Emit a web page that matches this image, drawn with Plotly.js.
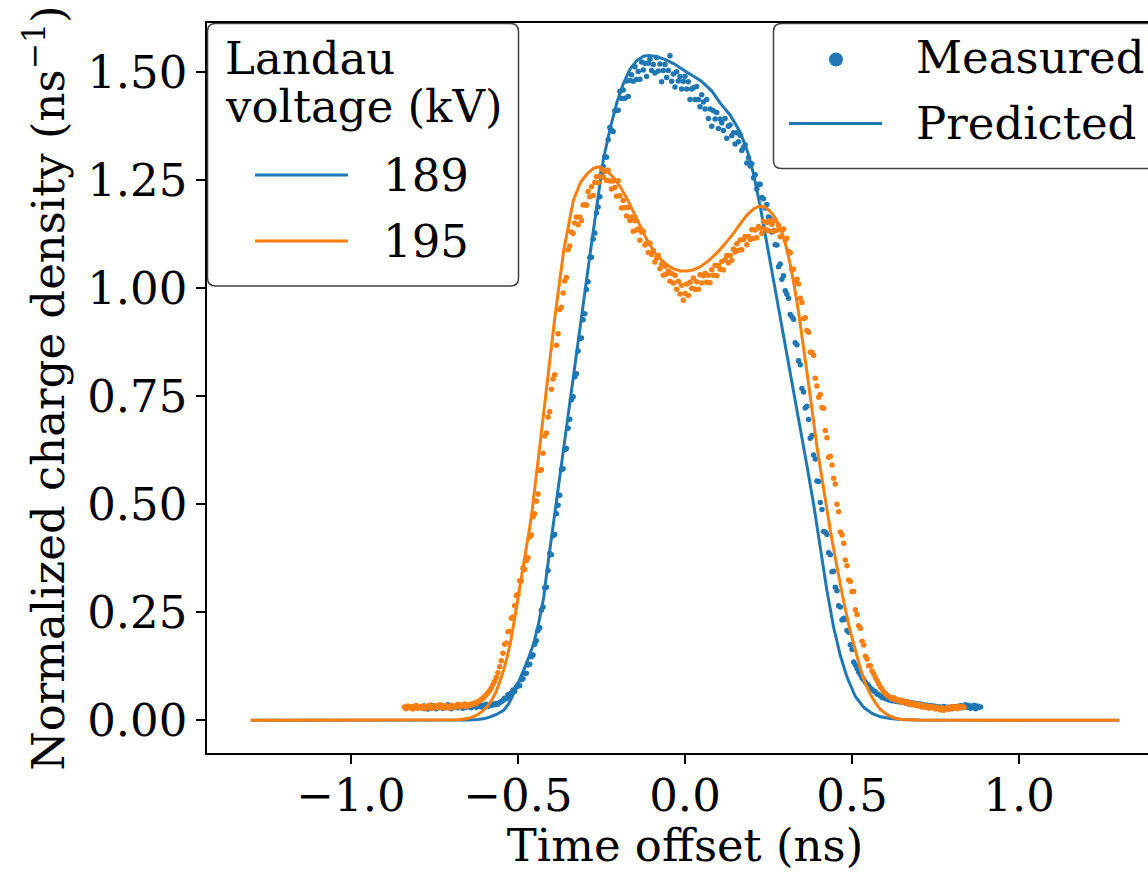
<!DOCTYPE html>
<html><head><meta charset="utf-8">
<script src="https://cdn.plot.ly/plotly-3.0.1.min.js"></script>
<style>html,body{margin:0;padding:0;overflow:hidden;background:#fff}</style>
</head><body><div id="chart" style="width:1170px;height:872px"></div>
<script>
// ---- data ----
const voltages = ['189', '195'];
const seriesColors = ['#1f77b4', '#ff7f0e'];
const measuredDx = 0.005;
const measured189X0 = -0.79;
const measured189 = [
0.031,0.028,0.033,0.030,0.026,0.032,0.035,0.029,0.031,0.027,
0.033,0.030,0.034,0.028,0.031,0.029,0.036,0.030,0.027,0.032,
0.030,0.034,0.029,0.031,0.033,0.028,0.032,0.030,0.035,0.031,
0.029,0.033,0.036,0.030,0.032,0.034,0.031,0.035,0.033,0.037,
0.032,0.036,0.034,0.038,0.036,0.039,0.037,0.041,0.043,0.046,
0.051,0.050,0.059,0.055,0.063,0.070,0.067,0.077,0.083,0.080,
0.094,0.096,0.109,0.109,0.128,0.130,0.147,0.151,0.176,0.184,
0.208,0.214,0.255,0.262,0.307,0.308,0.347,0.386,0.383,0.427,
0.430,0.478,0.498,0.521,0.580,0.582,0.626,0.629,0.676,0.697,
0.742,0.749,0.795,0.802,0.855,0.884,0.885,0.927,0.941,0.997,
1.015,1.071,1.072,1.114,1.128,1.175,1.188,1.212,1.265,1.282,
1.305,1.303,1.344,1.372,1.366,1.363,1.411,1.412,1.412,1.456,
1.439,1.459,1.440,1.480,1.444,1.481,1.494,1.479,1.513,1.483,
1.502,1.484,1.524,1.505,1.521,1.490,1.521,1.530,1.504,1.518,
1.498,1.534,1.503,1.519,1.478,1.504,1.518,1.488,1.504,1.538,
1.479,1.496,1.466,1.501,1.480,1.490,1.461,1.479,1.491,1.461,
1.478,1.437,1.461,1.464,1.437,1.467,1.437,1.420,1.448,1.431,
1.415,1.437,1.393,1.415,1.375,1.411,1.392,1.407,1.370,1.392,
1.383,1.365,1.393,1.347,1.375,1.378,1.353,1.360,1.334,1.360,
1.339,1.354,1.319,1.326,1.332,1.290,1.302,1.283,1.288,1.256,
1.263,1.230,1.241,1.241,1.210,1.207,1.186,1.194,1.165,1.161,
1.130,1.133,1.101,1.100,1.050,1.056,1.021,1.029,0.994,0.986,
0.977,0.939,0.934,0.928,0.874,0.869,0.832,0.823,0.768,0.760,
0.723,0.727,0.696,0.653,0.659,0.614,0.605,0.554,0.553,0.504,
0.488,0.437,0.435,0.430,0.388,0.383,0.344,0.345,0.308,0.300,
0.265,0.262,0.232,0.236,0.234,0.208,0.204,0.175,0.164,0.135,
0.128,0.120,0.112,0.106,0.098,0.094,0.088,0.084,0.080,0.074,
0.071,0.068,0.066,0.061,0.059,0.057,0.053,0.055,0.050,0.052,
0.047,0.050,0.045,0.048,0.044,0.047,0.043,0.046,0.041,0.044,
0.040,0.043,0.038,0.041,0.037,0.040,0.036,0.039,0.034,0.038,
0.033,0.036,0.032,0.035,0.031,0.034,0.030,0.033,0.029,0.032,
0.027,0.031,0.028,0.032,0.026,0.030,0.028,0.031,0.027,0.030,
0.032,0.028,0.031,0.034,0.029,0.033,0.036,0.030,0.034,0.028,
0.032,0.035,0.027,0.033,0.030,0.031
];
const measured195X0 = -0.84;
const measured195 = [
0.031,0.027,0.033,0.029,0.032,0.026,0.030,0.034,0.028,0.031,
0.029,0.033,0.027,0.032,0.030,0.035,0.028,0.031,0.034,0.029,
0.032,0.036,0.030,0.033,0.029,0.034,0.031,0.028,0.035,0.032,
0.030,0.034,0.037,0.031,0.035,0.033,0.038,0.032,0.036,0.034,
0.038,0.036,0.040,0.039,0.043,0.045,0.048,0.051,0.055,0.059,
0.064,0.069,0.075,0.082,0.090,0.099,0.110,0.124,0.138,0.155,
0.176,0.179,0.205,0.206,0.236,0.239,0.265,0.289,0.292,0.323,
0.322,0.352,0.349,0.370,0.376,0.424,0.429,0.471,0.478,0.507,
0.524,0.578,0.580,0.618,0.658,0.665,0.702,0.714,0.766,0.790,
0.800,0.868,0.895,0.951,0.956,0.989,1.017,1.025,1.089,1.098,
1.130,1.127,1.151,1.165,1.147,1.165,1.156,1.193,1.194,1.192,
1.224,1.212,1.235,1.215,1.245,1.258,1.244,1.259,1.276,1.257,
1.270,1.250,1.273,1.248,1.230,1.248,1.233,1.213,1.249,1.214,
1.186,1.203,1.187,1.167,1.187,1.157,1.165,1.132,1.156,1.135,
1.137,1.111,1.130,1.132,1.100,1.104,1.083,1.104,1.078,1.087,
1.061,1.070,1.076,1.045,1.056,1.030,1.051,1.033,1.040,1.016,
1.034,1.012,1.030,0.998,1.016,0.987,1.007,0.972,0.988,1.010,
0.983,1.014,1.000,1.024,0.998,1.015,0.998,1.031,1.012,1.029,
1.035,1.014,1.030,1.013,1.043,1.030,1.053,1.029,1.052,1.044,
1.062,1.042,1.066,1.076,1.059,1.076,1.065,1.091,1.084,1.103,
1.088,1.112,1.089,1.113,1.120,1.101,1.120,1.113,1.136,1.115,
1.135,1.117,1.143,1.139,1.127,1.155,1.137,1.152,1.133,1.157,
1.148,1.132,1.156,1.134,1.146,1.119,1.135,1.137,1.112,1.116,
1.085,1.082,1.044,1.044,1.013,1.021,1.010,0.977,0.967,0.930,
0.932,0.902,0.898,0.852,0.852,0.845,0.792,0.774,0.748,0.754,
0.724,0.722,0.671,0.654,0.609,0.611,0.591,0.560,0.547,0.500,
0.483,0.436,0.429,0.410,0.371,0.358,0.325,0.321,0.298,0.298,
0.256,0.245,0.219,0.213,0.183,0.174,0.148,0.142,0.126,0.126,
0.114,0.107,0.099,0.092,0.084,0.077,0.072,0.066,0.062,0.058,
0.055,0.053,0.050,0.052,0.047,0.049,0.045,0.047,0.042,0.044,
0.040,0.043,0.038,0.041,0.036,0.039,0.034,0.037,0.033,0.036,
0.031,0.034,0.030,0.033,0.028,0.032,0.029,0.031,0.026,0.030,
0.027,0.024,0.029,0.023,0.027,0.030,0.025,0.029,0.032,0.028,
0.031,0.027,0.033,0.029,0.032,0.030
];
const predicted189X = [-1.3,-0.7,-0.65,-0.62,-0.6,-0.583,-0.563,-0.543,-0.528,-0.513,-0.498,-0.483,-0.468,-0.453,-0.438,-0.423,-0.413,-0.39,-0.36,-0.334,-0.31,-0.284,-0.264,-0.244,-0.224,-0.204,-0.184,-0.164,-0.144,-0.124,-0.109,-0.09,-0.06,-0.034,0,0.046,0.08,0.106,0.136,0.166,0.19,0.205,0.225,0.245,0.265,0.285,0.305,0.325,0.345,0.365,0.385,0.405,0.425,0.445,0.465,0.485,0.51,0.535,0.56,0.585,0.615,0.645,0.7,1.3];
const predicted189Y = [0,0,0.0005,0.002,0.004,0.008,0.014,0.023,0.038,0.062,0.088,0.116,0.145,0.178,0.225,0.285,0.347,0.48,0.65,0.80,0.94,1.08,1.19,1.30,1.37,1.43,1.475,1.508,1.527,1.537,1.539,1.537,1.53,1.52,1.503,1.481,1.457,1.428,1.40,1.36,1.31,1.265,1.19,1.105,1.02,0.935,0.85,0.76,0.675,0.59,0.50,0.40,0.30,0.215,0.15,0.10,0.055,0.030,0.016,0.008,0.004,0.002,0.0005,0];
const predicted195X = [-1.3,-0.72,-0.68,-0.65,-0.623,-0.608,-0.593,-0.58,-0.568,-0.555,-0.543,-0.533,-0.523,-0.513,-0.503,-0.493,-0.483,-0.46,-0.44,-0.413,-0.39,-0.363,-0.345,-0.334,-0.313,-0.293,-0.273,-0.259,-0.244,-0.229,-0.214,-0.194,-0.174,-0.154,-0.134,-0.114,-0.094,-0.074,-0.054,-0.034,-0.014,0.006,0.026,0.046,0.071,0.096,0.121,0.146,0.166,0.186,0.206,0.222,0.24,0.255,0.27,0.285,0.295,0.305,0.315,0.325,0.34,0.355,0.375,0.395,0.415,0.435,0.455,0.475,0.495,0.51,0.525,0.54,0.555,0.57,0.585,0.605,0.625,0.65,0.7,1.3];
const predicted195Y = [0,0,0.001,0.004,0.012,0.020,0.031,0.045,0.062,0.088,0.116,0.145,0.178,0.222,0.27,0.32,0.37,0.47,0.60,0.779,0.93,1.088,1.165,1.204,1.245,1.265,1.278,1.281,1.276,1.268,1.256,1.235,1.208,1.175,1.142,1.112,1.086,1.068,1.054,1.045,1.040,1.040,1.043,1.050,1.064,1.082,1.104,1.128,1.150,1.170,1.184,1.190,1.188,1.178,1.163,1.140,1.118,1.090,1.055,1.015,0.945,0.864,0.75,0.633,0.535,0.44,0.355,0.275,0.205,0.16,0.12,0.085,0.060,0.040,0.025,0.013,0.006,0.002,0.0005,0];
const xTickVals = [-1.0, -0.5, 0.0, 0.5, 1.0];
const yTickVals = [0, 0.25, 0.5, 0.75, 1.0, 1.25, 1.5];
const styleLabels = ['Measured', 'Predicted'];

// ---- drawing ----
const FONT = 'DejaVu Serif, serif';
const FS = 45;
const FIG_W = 1170, FIG_H = 872;
const PL = 207, PT = 23, PW = 956, PH = 730;
const fx = p => (p - PL) / PW;
const fy = p => (PT + PH - p) / PH;

const traces = [
  {type:'scatter', mode:'markers', name:'Measured '+voltages[0], x0:measured189X0, dx:measuredDx, y:measured189,
   marker:{size:5.5, color:seriesColors[0]}, showlegend:false, hoverinfo:'skip'},
  {type:'scatter', mode:'lines', name:voltages[0], x:predicted189X, y:predicted189Y,
   line:{color:seriesColors[0], width:3}, showlegend:false},
  {type:'scatter', mode:'markers', name:'Measured '+voltages[1], x0:measured195X0, dx:measuredDx, y:measured195,
   marker:{size:5.5, color:seriesColors[1]}, showlegend:false, hoverinfo:'skip'},
  {type:'scatter', mode:'lines', name:voltages[1], x:predicted195X, y:predicted195Y,
   line:{color:seriesColors[1], width:3}, showlegend:false}
];

function roundRect(x0, y0, x1, y1, r) {
  const a = fx(x0), b = fx(x1), c = fy(y0), d = fy(y1);
  const rx = r / PW, ry = r / PH;
  return `M${a+rx},${c} L${b-rx},${c} Q${b},${c} ${b},${c-ry} L${b},${d+ry} Q${b},${d} ${b-rx},${d} L${a+rx},${d} Q${a},${d} ${a},${d+ry} L${a},${c-ry} Q${a},${c} ${a+rx},${c} Z`;
}
const frame = {color:'rgba(0,0,0,0.75)', width:1.5};
const shapes = [
  {type:'path', xref:'paper', yref:'paper', layer:'above', path:roundRect(207.5, 23.5, 518.5, 286, 8),
   fillcolor:'rgba(255,255,255,0.85)', line:frame},
  {type:'line', xref:'paper', yref:'paper', layer:'above', x0:fx(255), x1:fx(348), y0:fy(175), y1:fy(175),
   line:{color:seriesColors[0], width:3}},
  {type:'line', xref:'paper', yref:'paper', layer:'above', x0:fx(255), x1:fx(348), y0:fy(241), y1:fy(241),
   line:{color:seriesColors[1], width:3}},
  {type:'path', xref:'paper', yref:'paper', layer:'above', path:roundRect(773.5, 23.5, 1160, 168.5, 8),
   fillcolor:'rgba(255,255,255,0.85)', line:frame},
  {type:'circle', xref:'paper', yref:'paper', layer:'above', x0:fx(829), x1:fx(843), y0:fy(52.5), y1:fy(66.5),
   fillcolor:seriesColors[0], line:{width:0}},
  {type:'line', xref:'paper', yref:'paper', layer:'above', x0:fx(789), x1:fx(882), y0:fy(123.5), y1:fy(123.5),
   line:{color:seriesColors[0], width:3}}
];
function label(text, x, yc) {
  return {text:text, xref:'paper', yref:'paper', x:fx(x), y:fy(yc), xanchor:'left', yanchor:'middle',
          showarrow:false, borderpad:0, font:{family:FONT, size:FS, color:'#000'}};
}
const annotations = [
  label('Landau', 224, 58.5),
  label('voltage (kV)', 224, 107),
  label(voltages[0], 382, 176),
  label(voltages[1], 382, 241),
  label(styleLabels[0], 915, 58),
  label(styleLabels[1], 915, 123)
];

const axisCommon = {showline:true, mirror:true, linecolor:'#000', linewidth:1.6, ticks:'outside', ticklen:9,
  tickwidth:1.6, tickcolor:'#000', showgrid:false, zeroline:false, automargin:false,
  tickfont:{family:FONT, size:FS, color:'#000'}};

const layout = {
  width:FIG_W, height:FIG_H,
  margin:{l:PL, r:FIG_W-PL-PW, t:PT, b:FIG_H-PT-PH},
  paper_bgcolor:'#fff', plot_bgcolor:'#fff',
  font:{family:FONT, size:FS, color:'#000'},
  showlegend:false,
  xaxis:Object.assign({}, axisCommon, {range:[-1.431, 1.431], tickvals:xTickVals, tickformat:'.1f',
    ticklabelstandoff:-7,
    title:{text:'Time offset (ns)', font:{family:FONT, size:FS, color:'#000'}, standoff:12}}),
  yaxis:Object.assign({}, axisCommon, {range:[-0.0757, 1.614], tickvals:yTickVals, tickformat:'.2f',
    title:{text:'Normalized charge density (ns<sup>−1</sup>)', font:{family:FONT, size:FS, color:'#000'}, standoff:8}}),
  shapes:shapes,
  annotations:annotations
};
Plotly.newPlot('chart', traces, layout, {displayModeBar:false, staticPlot:true});
</script></body></html>
